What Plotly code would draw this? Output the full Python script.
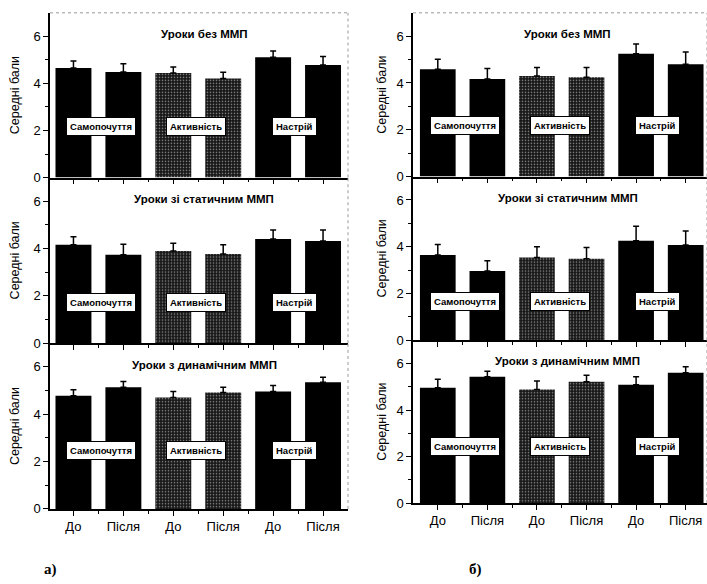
import plotly.graph_objects as go

# ---------------- data ----------------
tick_labels = ["До", "Після", "До", "Після", "До", "Після"]
group_labels = ["Самопочуття", "Активність", "Настрій"]
panel_titles = ["Уроки без ММП", "Уроки зі статичним ММП", "Уроки з динамічним ММП"]
y_title = "Середні бали"
column_labels = ["а)", "б)"]

# column a)
a_bez = [4.65, 4.49, 4.44, 4.21, 5.11, 4.78]
a_bez_err = [0.30, 0.35, 0.26, 0.26, 0.27, 0.36]
a_stat = [4.16, 3.74, 3.90, 3.77, 4.40, 4.32]
a_stat_err = [0.34, 0.44, 0.32, 0.39, 0.38, 0.46]
a_din = [4.78, 5.14, 4.71, 4.92, 4.96, 5.35]
a_din_err = [0.25, 0.24, 0.25, 0.22, 0.25, 0.21]

# column б)
b_bez = [4.59, 4.17, 4.30, 4.24, 5.25, 4.80]
b_bez_err = [0.42, 0.45, 0.36, 0.42, 0.42, 0.52]
b_stat = [3.65, 2.96, 3.54, 3.49, 4.25, 4.07]
b_stat_err = [0.44, 0.44, 0.46, 0.48, 0.63, 0.60]
b_din = [4.96, 5.43, 4.88, 5.22, 5.09, 5.60]
b_din_err = [0.36, 0.24, 0.37, 0.28, 0.34, 0.26]

W, H = 707, 584
FONT = "Liberation Sans, Arial, sans-serif"

columns = [
    [(a_bez, a_bez_err), (a_stat, a_stat_err), (a_din, a_din_err)],
    [(b_bez, b_bez_err), (b_stat, b_stat_err), (b_din, b_din_err)],
]
# layout geometry (pixels)
col_x = [(50, 348), (413, 707)]
col_xrange = [(-0.47, 5.5), (-0.5, 5.43)]
row_y = [[(13, 180), (180, 348), (348, 516)],
         [(13, 179), (179, 345), (345, 510)]]
label_y = [[2.17, 1.73, 2.46], [2.18, 1.67, 2.43]]
label_x = [0.55, 2.46, 4.43]
ytitle_x = [15, 382]
col_label_x = [50, 475]

bar_colors = ["#000000", "#000000", "#181818", "#181818", "#000000", "#000000"]
bar_patterns = ["", "", ".", ".", "", ""]

fig = go.Figure()
annotations = []
shapes = []
xs = list(range(6))

idx = 0
for c in range(2):
    for r in range(3):
        idx += 1
        vals, errs = columns[c][r]
        xa = "x" if idx == 1 else f"x{idx}"
        ya = "y" if idx == 1 else f"y{idx}"
        xkey = "xaxis" if idx == 1 else f"xaxis{idx}"
        ykey = "yaxis" if idx == 1 else f"yaxis{idx}"
        fig.add_trace(go.Bar(
            x=xs, y=vals, xaxis=xa, yaxis=ya, width=0.72,
            marker=dict(color=bar_colors, line=dict(width=0),
                        pattern=dict(shape=bar_patterns, fgcolor="#858585",
                                     fillmode="overlay", size=3, solidity=0.22)),
            error_y=dict(type="data", symmetric=False, array=errs,
                         arrayminus=[0] * 6, color="black", thickness=1.5, width=3),
            showlegend=False, hoverinfo="skip"))
        x0, x1 = col_x[c]
        yt, yb = row_y[c][r]
        bottom = (r == 2)
        fig.layout[xkey] = dict(
            domain=[x0 / W, x1 / W], range=list(col_xrange[c]), anchor=ya,
            tickmode="array", tickvals=xs, ticktext=tick_labels,
            showticklabels=bottom, ticks="outside", ticklen=5, tickwidth=1,
            tickcolor="black", showline=True, linecolor="black", linewidth=1.5,
            showgrid=False, zeroline=False,
            tickfont=dict(family=FONT, size=13, color="black"),
            minor=dict(tickmode="array", tickvals=[0.5, 1.5, 2.5, 3.5, 4.5],
                       ticks="outside", ticklen=3, tickcolor="black"),
            fixedrange=True)
        fig.layout[ykey] = dict(
            domain=[1 - yb / H, 1 - yt / H], range=[0, 7], anchor=xa,
            tickvals=[0, 2, 4, 6], ticks="outside", ticklen=5, tickwidth=1,
            tickcolor="black", showline=True, linecolor="black", linewidth=1.5,
            showgrid=False, zeroline=False,
            tickfont=dict(family=FONT, size=13, color="black"),
            minor=dict(tickmode="array", tickvals=[1, 3, 5], ticks="outside",
                       ticklen=3, tickcolor="black"),
            fixedrange=True)
        # group labels in boxes
        for gx, gl in zip(label_x, group_labels):
            annotations.append(dict(
                x=gx, y=label_y[c][r], xref=xa, yref=ya, text=f"<b>{gl}</b>",
                showarrow=False, bgcolor="white", bordercolor="black",
                borderwidth=1, borderpad=3, xanchor="center", yanchor="middle",
                font=dict(family=FONT, size=9.5, color="black")))
        # panel title
        annotations.append(dict(
            x=2.62, y=6.1, xref=xa, yref=ya, text=f"<b>{panel_titles[r]}</b>",
            showarrow=False, xanchor="center", yanchor="middle",
            font=dict(family=FONT, size=11.5, color="black")))
        # y axis title
        annotations.append(dict(
            x=ytitle_x[c] / W, y=1 - (yt + yb) / 2 / H, xref="paper", yref="paper",
            text=y_title, textangle=-90, showarrow=False,
            xanchor="center", yanchor="middle",
            font=dict(family=FONT, size=12.5, color="black")))
        # faint right frame
        shapes.append(dict(type="line", xref=f"{xa} domain", yref=f"{ya} domain",
                           x0=1, x1=1, y0=0, y1=1,
                           line=dict(color="#9a9a9a", width=1, dash="dot")))
        if r == 0:
            shapes.append(dict(type="line", xref=f"{xa} domain", yref=f"{ya} domain",
                               x0=0, x1=1, y0=1, y1=1,
                               line=dict(color="#9a9a9a", width=1, dash="dot")))
    annotations.append(dict(
        x=col_label_x[c] / W, y=1 - 577 / H, xref="paper", yref="paper",
        text=f"<b>{column_labels[c]}</b>", showarrow=False,
        xanchor="center", yanchor="middle",
        font=dict(family="Liberation Serif, Times New Roman, serif", size=15, color="black")))

fig.update_layout(
    width=W, height=H, margin=dict(l=0, r=0, t=0, b=0),
    paper_bgcolor="white", plot_bgcolor="white",
    annotations=annotations, shapes=shapes, bargap=0.28,
)

fig.write_html("out.html", config={"displayModeBar": False},
               post_script="document.body.style.margin='0';document.body.style.overflow='hidden';")
